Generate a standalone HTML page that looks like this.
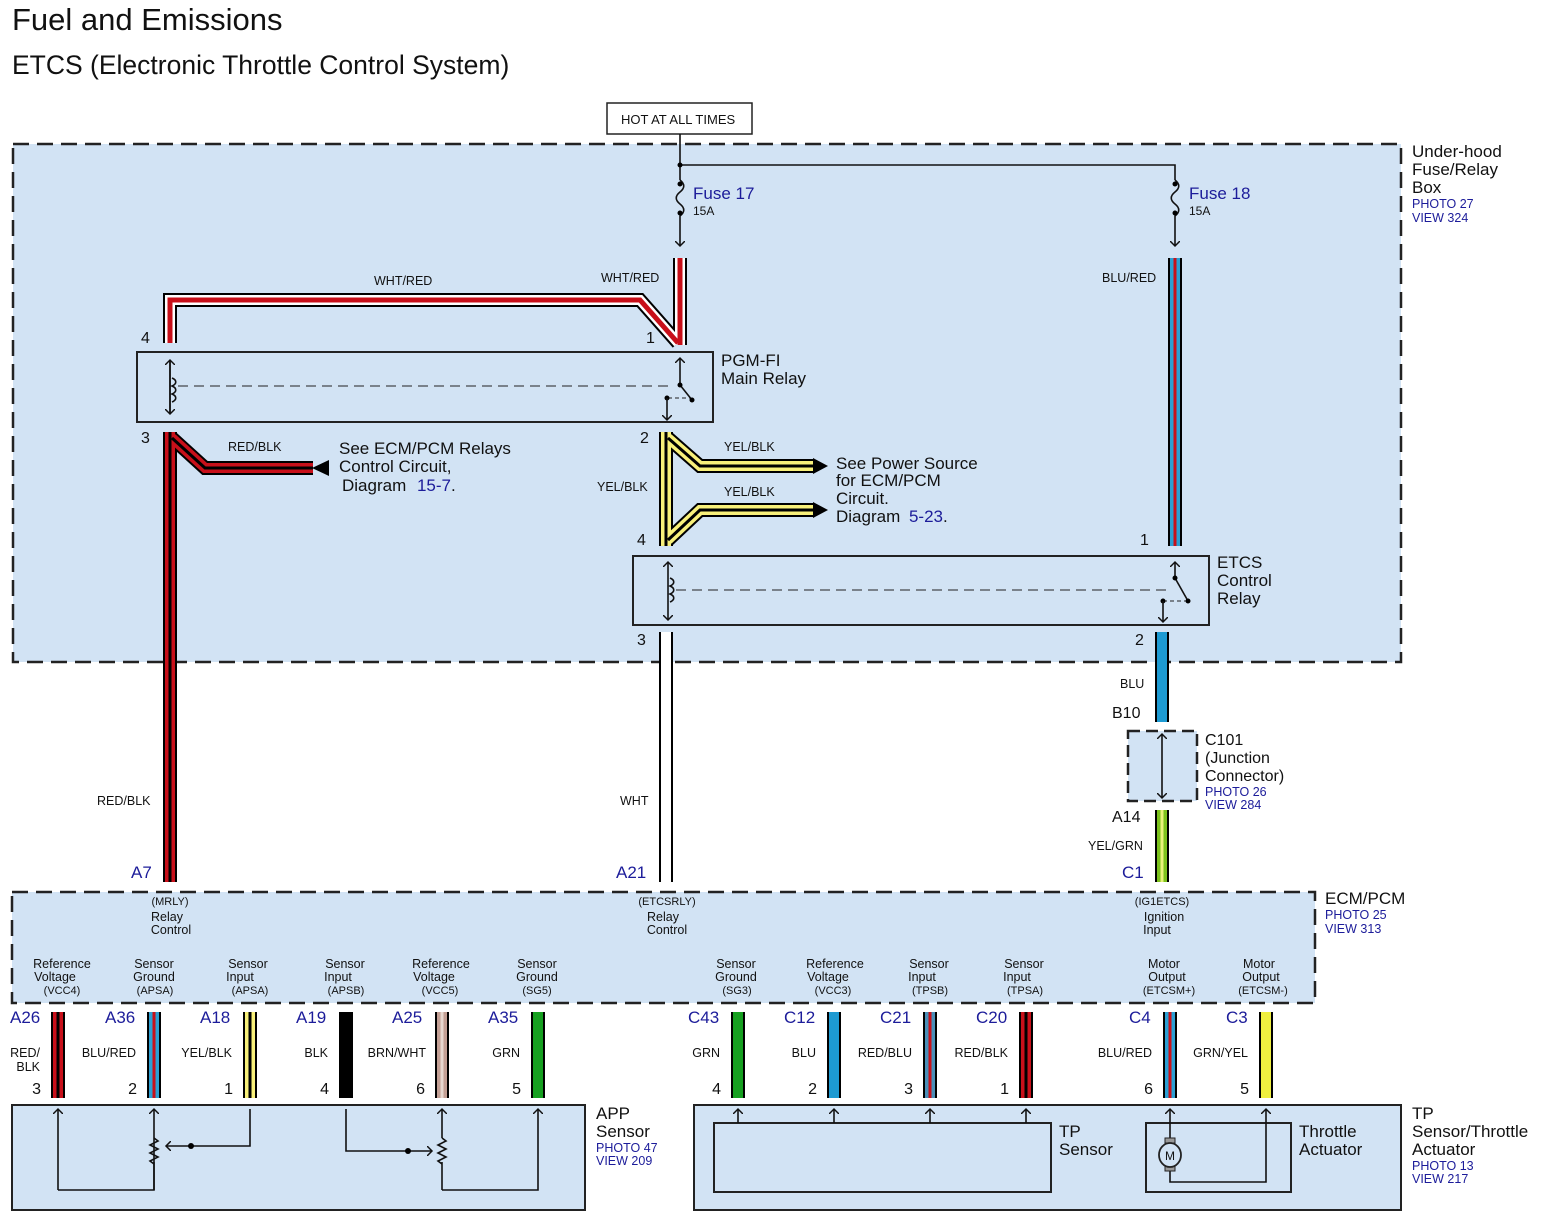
<!DOCTYPE html>
<html><head><meta charset="utf-8"><style>
html,body{margin:0;padding:0;background:#fff;width:1543px;height:1223px;overflow:hidden}
svg{display:block}
text{font-family:"Liberation Sans",Arial,sans-serif;fill:#111}
.b,.b text{fill:#1c1c9a}
.s{font-size:12.5px}
.m{font-size:16px}
.l{font-size:17px}
.o{stroke:#000;stroke-width:14;fill:none;stroke-linejoin:miter}
.k{stroke:#111;stroke-width:1.6;fill:none}
.pnl{fill:#d2e3f4;stroke:#222;stroke-width:2}
.dash{fill:#d2e3f4;stroke:#222;stroke-width:2.5;stroke-dasharray:16 8}
</style></head><body>
<svg width="1543" height="1223" viewBox="0 0 1543 1223" xmlns="http://www.w3.org/2000/svg">
<defs>
<marker id="ah" markerWidth="10" markerHeight="10" refX="5" refY="5" orient="auto" markerUnits="userSpaceOnUse"><path d="M0,0 L5,5 L0,10" fill="none" stroke="#111" stroke-width="1.5"/></marker>
<path id="w1" d="M680 258 V345"/>
<path id="w2" d="M170 343 V300 H640 L678 343"/>
<path id="w3" d="M170 432 V882"/>
<path id="w4" d="M172 438 L205 468 H313"/>
<path id="w5" d="M666 432 V546"/>
<path id="w6" d="M668 438 L700 466 H815"/>
<path id="w7" d="M668 540 L700 510 H815"/>
<path id="w8" d="M1175 258 V546"/>
<path id="w9" d="M666 632 V882"/>
<path id="w10" d="M1162 632 V722"/>
<path id="w11" d="M1162 810 V882"/>
</defs>

<text x="12" y="30" style="font-size:31px">Fuel and Emissions</text>
<text x="12" y="74" style="font-size:26.5px">ETCS (Electronic Throttle Control System)</text>

<rect x="607" y="103" width="145" height="31" fill="#fff" stroke="#222" stroke-width="1.5"/>
<text x="621" y="124" style="font-size:13px">HOT AT ALL TIMES</text>

<rect class="dash" x="13" y="144" width="1388" height="518"/>
<text x="1412" y="157" class="l">Under-hood</text>
<text x="1412" y="175" class="l">Fuse/Relay</text>
<text x="1412" y="193" class="l">Box</text>
<text x="1412" y="208" class="s b">PHOTO 27</text>
<text x="1412" y="222" class="s b">VIEW 324</text>

<path class="k" d="M680 134 V180 M680 165 H1175 V180"/>
<circle cx="680" cy="165" r="2.5"/>
<path class="k" d="M680 180 c5 4 5 8 0 12 c-5 4 -5 8 0 12 c5 4 5 8 0 12 V246" marker-end="url(#ah)"/>
<path class="k" d="M1175 180 c5 4 5 8 0 12 c-5 4 -5 8 0 12 c5 4 5 8 0 12 V246" marker-end="url(#ah)"/>
<circle cx="680" cy="184" r="2.5"/><circle cx="680" cy="213" r="2.5"/>
<circle cx="1175" cy="184" r="2.5"/><circle cx="1175" cy="213" r="2.5"/>
<text x="693" y="199" class="l b">Fuse 17</text><text x="693" y="215" style="font-size:12px">15A</text>
<text x="1189" y="199" class="l b">Fuse 18</text><text x="1189" y="215" style="font-size:12px">15A</text>

<g class="o"><use href="#w1"/><use href="#w2"/><use href="#w3"/><use href="#w4"/><use href="#w5"/><use href="#w6"/><use href="#w7"/><use href="#w8"/><use href="#w9"/><use href="#w10"/><use href="#w11"/></g>
<g fill="none" stroke-width="10">
<use href="#w1" stroke="#fff"/><use href="#w2" stroke="#fff"/>
<use href="#w3" stroke="#c8101a"/><use href="#w4" stroke="#c8101a"/>
<use href="#w5" stroke="#f8f07a"/><use href="#w6" stroke="#f8f07a"/><use href="#w7" stroke="#f8f07a"/>
<use href="#w8" stroke="#2b9fd3"/><use href="#w9" stroke="#fff"/><use href="#w10" stroke="#1d9ad2"/>
<use href="#w11" stroke="#7cc21c"/>
</g>
<g fill="none">
<use href="#w1" stroke="#c8101a" stroke-width="5"/><use href="#w2" stroke="#c8101a" stroke-width="5"/>
<use href="#w3" stroke="#000" stroke-width="3"/><use href="#w4" stroke="#000" stroke-width="3"/>
<use href="#w5" stroke="#000" stroke-width="3"/><use href="#w6" stroke="#000" stroke-width="3"/><use href="#w7" stroke="#000" stroke-width="3"/>
<use href="#w8" stroke="#c8101a" stroke-width="3"/>
<use href="#w11" stroke="#e8f27a" stroke-width="3"/>
</g>
<polygon points="313,460 313,476 330,468" transform="rotate(180 321 468)" fill="#000"/>
<polygon points="813,458 813,474 828,466" fill="#000"/>
<polygon points="813,502 813,518 828,510" fill="#000"/>

<rect class="pnl" x="137" y="352" width="576" height="70"/>
<path class="k" d="M170 360 V414" marker-end="url(#ah)"/>
<path class="k" d="M170 414 V360" marker-end="url(#ah)"/>
<path class="k" d="M172 378 c5 2 5 6 0 8 c5 2 5 6 0 8 c5 2 5 6 0 8"/>
<path d="M178 386 H670" stroke="#222" stroke-width="1" stroke-dasharray="10 6" fill="none"/>
<path class="k" d="M680 385 V358" marker-end="url(#ah)"/>
<path class="k" d="M680 385 L692 400"/><circle cx="680" cy="385" r="2.5"/><circle cx="692" cy="400" r="2.5"/>
<path d="M668 398 H690" stroke="#222" stroke-dasharray="4 3" fill="none"/><circle cx="667" cy="398" r="2.5"/>
<path class="k" d="M667 398 V420" marker-end="url(#ah)"/>
<text x="721" y="366" class="l">PGM-FI</text><text x="721" y="384" class="l">Main Relay</text>
<text x="141" y="343" class="m">4</text><text x="646" y="343" class="m">1</text>
<text x="141" y="443" class="m">3</text><text x="640" y="443" class="m">2</text>
<text x="374" y="285" class="s">WHT/RED</text><text x="601" y="282" class="s">WHT/RED</text>
<text x="228" y="451" class="s">RED/BLK</text>
<text x="339" y="454" class="l">See ECM/PCM Relays</text>
<text x="339" y="472" class="l">Control Circuit,</text>
<text x="342" y="491" class="l">Diagram <tspan class="b" dx="6">15-7</tspan>.</text>
<text x="724" y="451" class="s">YEL/BLK</text><text x="724" y="496" class="s">YEL/BLK</text>
<text x="597" y="491" class="s">YEL/BLK</text>
<text x="836" y="469" class="l">See Power Source</text>
<text x="836" y="486" class="l">for ECM/PCM</text>
<text x="836" y="504" class="l">Circuit.</text>
<text x="836" y="522" class="l">Diagram <tspan class="b" dx="4">5-23</tspan>.</text>
<text x="1102" y="282" class="s">BLU/RED</text>

<rect class="pnl" x="633" y="556" width="576" height="69"/>
<path class="k" d="M668 590 V562" marker-end="url(#ah)"/>
<path class="k" d="M668 590 V620" marker-end="url(#ah)"/>
<path class="k" d="M670 578 c5 2 5 6 0 8 c5 2 5 6 0 8 c5 2 5 6 0 8"/>
<path d="M676 590 H1172" stroke="#222" stroke-width="1" stroke-dasharray="10 6" fill="none"/>
<path class="k" d="M1175 578 V562" marker-end="url(#ah)"/>
<path class="k" d="M1175 578 L1188 601"/><circle cx="1175" cy="578" r="2.5"/><circle cx="1188" cy="601" r="2.5"/>
<path d="M1163 601 H1186" stroke="#222" stroke-dasharray="4 3" fill="none"/><circle cx="1163" cy="601" r="2.5"/>
<path class="k" d="M1163 601 V622" marker-end="url(#ah)"/>
<text x="1217" y="568" class="l">ETCS</text><text x="1217" y="586" class="l">Control</text><text x="1217" y="604" class="l">Relay</text>
<text x="637" y="545" class="m">4</text><text x="1140" y="545" class="m">1</text>
<text x="637" y="645" class="m">3</text><text x="1135" y="645" class="m">2</text>

<text x="97" y="805" class="s">RED/BLK</text>
<text x="620" y="805" class="s">WHT</text>
<text x="1120" y="688" class="s">BLU</text>
<text x="1112" y="718" class="m">B10</text>
<rect x="1128" y="731" width="69" height="70" fill="#d2e3f4" stroke="#222" stroke-width="2.5" stroke-dasharray="12 6"/>
<path class="k" d="M1162 766 V734" marker-end="url(#ah)"/><path class="k" d="M1162 766 V798" marker-end="url(#ah)"/>
<text x="1205" y="745" class="m">C101</text><text x="1205" y="763" class="m">(Junction</text><text x="1205" y="781" class="m">Connector)</text>
<text x="1205" y="796" class="s b">PHOTO 26</text><text x="1205" y="809" class="s b">VIEW 284</text>
<text x="1112" y="822" class="m">A14</text>
<text x="1088" y="850" class="s">YEL/GRN</text>
<text x="1122" y="878" class="l b">C1</text>
<text x="131" y="878" class="l b">A7</text>
<text x="616" y="878" class="l b">A21</text>

<rect x="12" y="892" width="1303" height="111" fill="#d2e3f4" stroke="#222" stroke-width="2.5" stroke-dasharray="16 8"/>
<text x="1325" y="904" class="l">ECM/PCM</text>
<text x="1325" y="919" class="s b">PHOTO 25</text><text x="1325" y="933" class="s b">VIEW 313</text>
<g style="font-size:11px" text-anchor="middle">
<text x="170" y="905">(MRLY)</text><text x="667" y="905">(ETCSRLY)</text><text x="1162" y="905">(IG1ETCS)</text>
</g>
<g class="s" text-anchor="middle">
<text x="167" y="921">Relay</text><text x="171" y="934">Control</text>
<text x="663" y="921">Relay</text><text x="667" y="934">Control</text>
<text x="1164" y="921">Ignition</text><text x="1157" y="934">Input</text>
</g>
<g class="s" text-anchor="middle">
<text x="62" y="968">Reference</text><text x="55" y="981">Voltage</text>
<text x="154" y="968">Sensor</text><text x="154" y="981">Ground</text>
<text x="248" y="968">Sensor</text><text x="240" y="981">Input</text>
<text x="345" y="968">Sensor</text><text x="338" y="981">Input</text>
<text x="441" y="968">Reference</text><text x="434" y="981">Voltage</text>
<text x="537" y="968">Sensor</text><text x="537" y="981">Ground</text>
<text x="736" y="968">Sensor</text><text x="736" y="981">Ground</text>
<text x="835" y="968">Reference</text><text x="828" y="981">Voltage</text>
<text x="929" y="968">Sensor</text><text x="922" y="981">Input</text>
<text x="1024" y="968">Sensor</text><text x="1017" y="981">Input</text>
<text x="1164" y="968">Motor</text><text x="1167" y="981">Output</text>
<text x="1259" y="968">Motor</text><text x="1261" y="981">Output</text>
</g>
<g style="font-size:11px" text-anchor="middle">
<text x="62" y="994">(VCC4)</text><text x="155" y="994">(APSA)</text><text x="250" y="994">(APSA)</text>
<text x="346" y="994">(APSB)</text><text x="440" y="994">(VCC5)</text><text x="537" y="994">(SG5)</text>
<text x="737" y="994">(SG3)</text><text x="833" y="994">(VCC3)</text><text x="930" y="994">(TPSB)</text>
<text x="1025" y="994">(TPSA)</text><text x="1169" y="994">(ETCSM+)</text><text x="1263" y="994">(ETCSM-)</text>
</g>

<g stroke="#000" stroke-width="14" fill="none">
<path d="M58 1012V1098M154 1012V1098M250 1012V1098M346 1012V1098M442 1012V1098M538 1012V1098M738 1012V1098M834 1012V1098M930 1012V1098M1026 1012V1098M1170 1012V1098M1266 1012V1098"/>
</g>
<g stroke-width="10" fill="none">
<path d="M58 1012V1098" stroke="#c8101a"/><path d="M154 1012V1098" stroke="#2b9fd3"/>
<path d="M250 1012V1098" stroke="#f8f07a"/><path d="M442 1012V1098" stroke="#c4a095"/>
<path d="M538 1012V1098" stroke="#16a020"/><path d="M738 1012V1098" stroke="#16a020"/>
<path d="M834 1012V1098" stroke="#1d9ad2"/><path d="M930 1012V1098" stroke="#4a8fb8"/>
<path d="M1026 1012V1098" stroke="#c8101a"/><path d="M1170 1012V1098" stroke="#2b9fd3"/>
<path d="M1266 1012V1098" stroke="#f0f040"/>
</g>
<g stroke-width="3" fill="none">
<path d="M58 1012V1098" stroke="#000"/><path d="M154 1012V1098" stroke="#c8101a"/>
<path d="M250 1012V1098" stroke="#000"/><path d="M930 1012V1098" stroke="#c8101a"/>
<path d="M1026 1012V1098" stroke="#000"/><path d="M1170 1012V1098" stroke="#c8101a"/>
<path d="M442 1012V1098" stroke="#e8d8d0"/>
</g>
<g class="l b">
<text x="10" y="1023">A26</text><text x="105" y="1023">A36</text><text x="200" y="1023">A18</text>
<text x="296" y="1023">A19</text><text x="392" y="1023">A25</text><text x="488" y="1023">A35</text>
<text x="688" y="1023">C43</text><text x="784" y="1023">C12</text><text x="880" y="1023">C21</text>
<text x="976" y="1023">C20</text><text x="1129" y="1023">C4</text><text x="1226" y="1023">C3</text>
</g>
<g class="s" text-anchor="end">
<text x="40" y="1057">RED/</text><text x="40" y="1071">BLK</text>
<text x="136" y="1057">BLU/RED</text><text x="232" y="1057">YEL/BLK</text><text x="328" y="1057">BLK</text>
<text x="426" y="1057">BRN/WHT</text><text x="520" y="1057">GRN</text>
<text x="720" y="1057">GRN</text><text x="816" y="1057">BLU</text><text x="912" y="1057">RED/BLU</text>
<text x="1008" y="1057">RED/BLK</text><text x="1152" y="1057">BLU/RED</text><text x="1248" y="1057">GRN/YEL</text>
</g>
<g class="m" text-anchor="end">
<text x="41" y="1094">3</text><text x="137" y="1094">2</text><text x="233" y="1094">1</text>
<text x="329" y="1094">4</text><text x="425" y="1094">6</text><text x="521" y="1094">5</text>
<text x="721" y="1094">4</text><text x="817" y="1094">2</text><text x="913" y="1094">3</text>
<text x="1009" y="1094">1</text><text x="1153" y="1094">6</text><text x="1249" y="1094">5</text>
</g>

<rect class="pnl" x="12" y="1105" width="573" height="105"/>
<g class="k">
<path d="M58 1190 V1109" marker-end="url(#ah)"/>
<path d="M58 1190 H154 V1109" marker-end="url(#ah)"/>
<path d="M154 1138 l4 3 -8 4 8 4 -8 4 8 4 -8 4 4 3"/>
<path d="M250 1109 V1146 H166" marker-end="url(#ah)"/>
<path d="M346 1109 V1151 H432" marker-end="url(#ah)"/>
<path d="M442 1138 l4 3 -8 4 8 4 -8 4 8 4 -8 4 4 3"/>
<path d="M442 1190 H538 V1109" marker-end="url(#ah)"/>
<path d="M442 1138 V1109" marker-end="url(#ah)"/>
<path d="M442 1162 V1190"/>
<path d="M154 1162 V1190"/>
</g>
<circle cx="191" cy="1146" r="3"/><circle cx="408" cy="1151" r="3"/>
<text x="596" y="1119" class="l">APP</text><text x="596" y="1137" class="l">Sensor</text>
<text x="596" y="1152" class="s b">PHOTO 47</text><text x="596" y="1165" class="s b">VIEW 209</text>

<rect class="pnl" x="694" y="1105" width="707" height="105"/>
<rect x="714" y="1123" width="337" height="69" fill="none" stroke="#222" stroke-width="2"/>
<g class="k">
<path d="M738 1123 V1109" marker-end="url(#ah)"/><path d="M834 1123 V1109" marker-end="url(#ah)"/>
<path d="M930 1123 V1109" marker-end="url(#ah)"/><path d="M1026 1123 V1109" marker-end="url(#ah)"/>
</g>
<text x="1059" y="1137" class="l">TP</text><text x="1059" y="1155" class="l">Sensor</text>
<rect x="1146" y="1123" width="145" height="69" fill="none" stroke="#222" stroke-width="2"/>
<g class="k">
<path d="M1170 1140 V1109" marker-end="url(#ah)"/>
<path d="M1170 1170 V1182 H1266 V1109" marker-end="url(#ah)"/>
</g>
<rect x="1165" y="1138" width="10" height="5" fill="#999" stroke="#222"/>
<rect x="1165" y="1166" width="10" height="5" fill="#999" stroke="#222"/>
<ellipse cx="1170" cy="1155" rx="11" ry="12" fill="#d2e3f4" stroke="#222" stroke-width="1.8"/>
<text x="1170" y="1160" text-anchor="middle" style="font-size:12px">M</text>
<text x="1299" y="1137" class="l">Throttle</text><text x="1299" y="1155" class="l">Actuator</text>
<text x="1412" y="1119" class="l">TP</text><text x="1412" y="1137" class="l">Sensor/Throttle</text>
<text x="1412" y="1155" class="l">Actuator</text>
<text x="1412" y="1170" class="s b">PHOTO 13</text><text x="1412" y="1183" class="s b">VIEW 217</text>
</svg>
</body></html>
